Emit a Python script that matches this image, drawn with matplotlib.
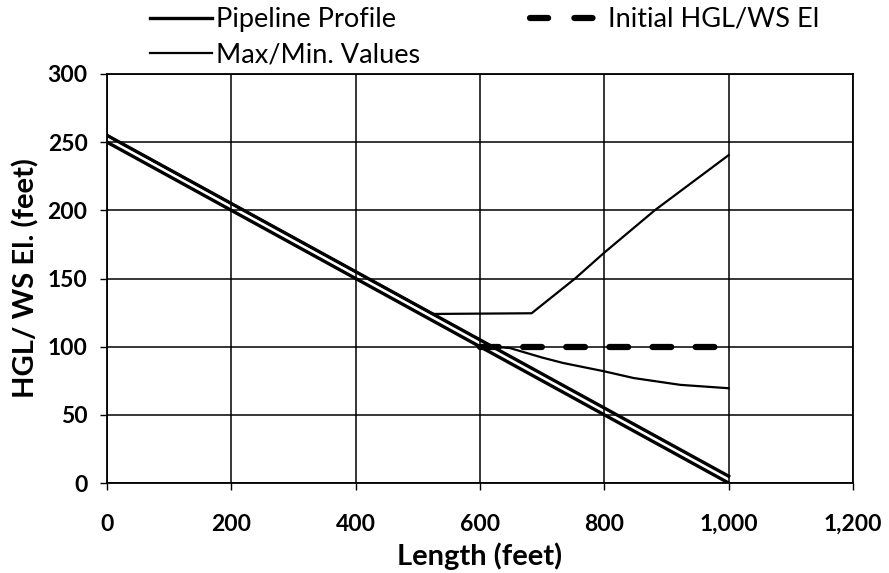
import matplotlib.pyplot as plt
from matplotlib.lines import Line2D
from matplotlib.ticker import FuncFormatter, MultipleLocator

plt.rcParams['font.family'] = ['Lato', 'DejaVu Sans']

# pipeline invert and crown (5 ft pipe)
pipe_x = [0, 1000]
pipe_invert = [250, 0]
pipe_crown = [255, 5]

# initial hydraulic grade line / water surface
hgl_x = [600, 1000]
hgl_y = [100, 100]

# transient envelopes
max_x = [0, 524, 683, 753, 800, 881, 1000]
max_y = [255, 124, 124.5, 150, 169, 200, 240.5]
min_x = [0, 620, 648, 700, 734, 799, 847, 922, 1000]
min_y = [255, 100, 99, 92, 88, 82, 77, 72, 69.5]

W, H = 889, 573
fig = plt.figure(figsize=(W / 100, H / 100), dpi=100)
ax = fig.add_axes([107 / W, 90 / H, 746 / W, 409 / H])

p1, = ax.plot(pipe_x, pipe_invert, color='black', lw=2.4, zorder=4)
ax.plot(pipe_x, pipe_crown, color='black', lw=2.4, zorder=4)
p2, = ax.plot(max_x, max_y, color='black', lw=1.6, zorder=3)
ax.plot(min_x, min_y, color='black', lw=1.6, zorder=3)
ax.plot(hgl_x, hgl_y, color='black', lw=4.5, dashes=(3.0, 3.9),
        dash_capstyle='round', zorder=5)

ax.set_xlim(0, 1200)
ax.set_ylim(0, 300)
ax.xaxis.set_major_locator(MultipleLocator(200))
ax.yaxis.set_major_locator(MultipleLocator(50))
ax.xaxis.set_major_formatter(FuncFormatter(lambda v, p: f'{int(v):,}'))
ax.grid(True, color='black', lw=1.1)
ax.set_axisbelow(True)
for s in ax.spines.values():
    s.set_color('black')
    s.set_linewidth(1.3)
ax.tick_params(direction='out', length=5, width=1, colors='black', labelsize=16.5)
ax.tick_params(axis='x', pad=17)
ax.tick_params(axis='y', pad=9)
for lab in ax.get_xticklabels() + ax.get_yticklabels():
    lab.set_fontweight('bold')

ax.set_xlabel('Length (feet)', fontsize=21, fontweight='bold', labelpad=6)
ax.set_ylabel('HGL/ WS El. (feet)', fontsize=21, fontweight='bold', labelpad=6)

# legend: two columns placed separately above the plot
hgl_handle = Line2D([], [], color='black', lw=4.5, dashes=(2.9, 4.2),
                    dash_capstyle='round')
leg1 = fig.legend([p1, p2], ['Pipeline Profile', 'Max/Min. Values'],
                  loc='upper left', bbox_to_anchor=(150 / W, 1 - 7 / H),
                  frameon=False, fontsize=19.5, handlelength=2.3,
                  handletextpad=0.12, labelspacing=0.4, borderpad=0,
                  borderaxespad=0)
leg2 = fig.legend([hgl_handle], ['Initial HGL/WS El'],
                  loc='upper left', bbox_to_anchor=(530 / W, 1 - 7 / H),
                  frameon=False, fontsize=19.5, handlelength=2.75,
                  handletextpad=0.12, borderpad=0, borderaxespad=0)

fig.savefig('out.png', dpi=100)
